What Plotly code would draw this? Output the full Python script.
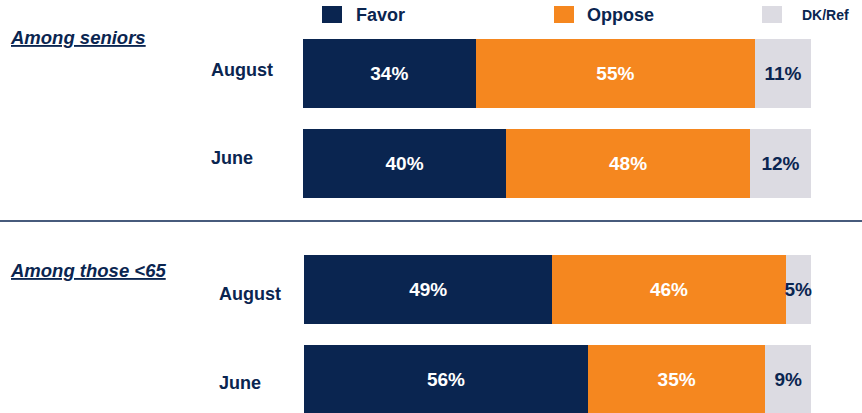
import plotly.graph_objects as go

categories = ["August", "June"]
groups = ["Among seniors", "Among those <65"]
series = ["Favor", "Oppose", "DK/Ref"]
seniors = {"Favor": [34, 40], "Oppose": [55, 48], "DK/Ref": [11, 12]}
under65 = {"Favor": [49, 56], "Oppose": [46, 35], "DK/Ref": [5, 9]}
colors = {"Favor": "#0a2550", "Oppose": "#f5871f", "DK/Ref": "#dcdbe2"}
text_colors = {"Favor": "white", "Oppose": "white", "DK/Ref": "#0a2550"}

NAVY = "#0a2550"
FONT = "Liberation Sans, Arial, sans-serif"
W, H = 862, 413

fig = go.Figure()
for axis_i, data in enumerate([seniors, under65]):
    ya = "y" if axis_i == 0 else "y2"
    xa = "x" if axis_i == 0 else "x2"
    for s in series:
        fig.add_trace(go.Bar(
            x=data[s], y=categories, orientation="h", name=s,
            marker=dict(color=colors[s], line=dict(width=0)),
            text=[f"<b>{v}%</b>" for v in data[s]], textposition="inside",
            insidetextanchor="middle", constraintext="none", textangle=0,
            textfont=dict(family=FONT, size=19, color=text_colors[s]),
            width=0.767, xaxis=xa, yaxis=ya, showlegend=False,
            hoverinfo="skip", cliponaxis=False,
        ))

fig.update_layout(
    width=W, height=H, margin=dict(l=0, r=0, t=0, b=0),
    barmode="stack", plot_bgcolor="white", paper_bgcolor="white",
    xaxis=dict(domain=[303 / W, 811 / W], range=[0, 100], visible=False),
    xaxis2=dict(domain=[304 / W, 811 / W], range=[0, 100], visible=False, anchor="y2"),
    yaxis=dict(domain=[1 - 208.5 / H, 1 - 28.5 / H], range=[1.5, -0.5],
               type="category", visible=False),
    yaxis2=dict(domain=[0, 1 - 244.5 / H], range=[-0.5 + 168.5 / 90, -0.5],
                type="category", visible=False, anchor="x2"),
)

# category labels (left aligned)
label_pos = [("y", 209, [3.5, 5.0]), ("y2", 217, [-4.5, -3.0])]
for ya, xpx, shifts in label_pos:
    for c, sh in zip(categories, shifts):
        fig.add_annotation(x=xpx / W, xref="paper", y=c, yref=ya, text=f"<b>{c}</b>",
                           showarrow=False, xanchor="left", yshift=sh,
                           font=dict(family=FONT, size=18, color=NAVY))

# group titles
for g, ypx in zip(groups, [38, 270]):
    fig.add_annotation(x=8 / W, xref="paper", y=1 - ypx / H, yref="paper",
                       text=f"<b><i><u>{g}</u></i></b>", showarrow=False,
                       xanchor="left", yanchor="middle",
                       font=dict(family=FONT, size=18.5, color=NAVY))

# separator line
fig.add_shape(type="line", xref="paper", yref="paper", x0=0, x1=1,
              y0=1 - 221 / H, y1=1 - 221 / H, line=dict(color=NAVY, width=1.5))

# legend
legend_pos = {"Favor": (322, 354, 18), "Oppose": (554, 585, 18), "DK/Ref": (762, 800, 14)}
for s in series:
    sx, tx, fs = legend_pos[s]
    fig.add_shape(type="rect", xref="paper", yref="paper",
                  x0=sx / W, x1=(sx + 20) / W, y0=1 - 23 / H, y1=1 - 6 / H,
                  fillcolor=colors[s], line=dict(width=0))
    fig.add_annotation(x=tx / W, xref="paper", y=1 - 15 / H, yref="paper",
                       text=f"<b>{s}</b>", showarrow=False, xanchor="left", yanchor="middle",
                       font=dict(family=FONT, size=fs, color=NAVY))

fig.write_html("out.html", config={"displayModeBar": False},
               post_script="document.body.style.margin='0px';")
